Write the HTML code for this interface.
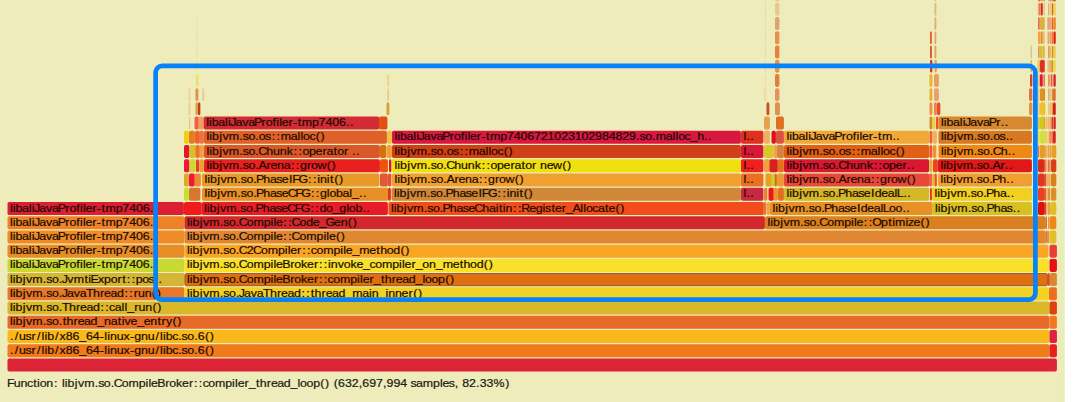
<!DOCTYPE html>
<html><head><meta charset="utf-8"><style>
html,body{margin:0;padding:0;}
body{width:1080px;height:402px;overflow:hidden;background:#ffffff;}
svg{display:block;}
.t{font-family:"Liberation Sans",sans-serif;font-size:11.2px;fill:#1a0a00;stroke:#1a0a00;stroke-width:0.2px;}
</style></head><body>
<svg width="1080" height="402" viewBox="0 0 1080 402">
<rect x="0" y="0" width="1064.5" height="402" fill="#edecba"/>
<rect x="1060" y="0" width="4.5" height="402" fill="#e9edb8"/>
<rect x="7.50" y="358.50" width="1049.40" height="13.0" rx="1.8" ry="1.8" fill="#dd2336"/>
<rect x="7.50" y="344.27" width="1041.90" height="13.0" rx="1.8" ry="1.8" fill="#f07a1c"/>
<svg x="7.50" y="344.27" width="1041.90" height="13.0" overflow="hidden"><text transform="translate(2.30,9.55) scale(1.107,1)" class="t" x="0.20 4.40 8.35 14.22 19.72 24.55 28.64 31.29 33.75 40.77 44.84 50.44 56.58 62.71 68.84 74.98 81.32 85.30 87.95 90.46 96.56 102.78 108.60 112.38 118.44 124.55 131.61 135.71 138.36 140.82 146.65 152.16 155.18 160.30 166.53 169.79 176.29 180.66">./usr/lib/x86_64-linux-gnu/libc.so.6()</text></svg>
<rect x="1049.50" y="344.27" width="7.40" height="13.0" rx="1.8" ry="1.8" fill="#e82020"/>
<rect x="7.50" y="330.04" width="1041.90" height="13.0" rx="1.8" ry="1.8" fill="#f9b91a"/>
<svg x="7.50" y="330.04" width="1041.90" height="13.0" overflow="hidden"><text transform="translate(2.30,9.55) scale(1.107,1)" class="t" x="0.20 4.40 8.35 14.22 19.72 24.55 28.64 31.29 33.75 40.77 44.84 50.44 56.58 62.71 68.84 74.98 81.32 85.30 87.95 90.46 96.56 102.78 108.60 112.38 118.44 124.55 131.61 135.71 138.36 140.82 146.65 152.16 155.18 160.30 166.53 169.79 176.29 180.66">./usr/lib/x86_64-linux-gnu/libc.so.6()</text></svg>
<rect x="1049.50" y="330.04" width="7.40" height="13.0" rx="1.8" ry="1.8" fill="#e02040"/>
<rect x="7.50" y="315.81" width="1041.90" height="13.0" rx="1.8" ry="1.8" fill="#e86a28"/>
<svg x="7.50" y="315.81" width="1041.90" height="13.0" overflow="hidden"><text transform="translate(2.30,9.55) scale(1.107,1)" class="t" x="0.08 2.73 5.19 11.71 14.64 20.32 29.87 32.89 38.01 44.25 47.90 51.29 57.66 61.34 67.11 73.01 79.08 85.20 91.15 97.50 101.04 103.66 109.08 115.02 120.96 126.88 133.40 137.05 141.03 147.00 151.36">libjvm.so.thread_native_entry()</text></svg>
<rect x="1049.50" y="315.81" width="7.40" height="13.0" rx="1.8" ry="1.8" fill="#f07820"/>
<rect x="7.50" y="301.58" width="1041.90" height="13.0" rx="1.8" ry="1.8" fill="#dab828"/>
<svg x="7.50" y="301.58" width="1041.90" height="13.0" overflow="hidden"><text transform="translate(2.30,9.55) scale(1.107,1)" class="t" x="0.08 2.73 5.19 11.71 14.64 20.32 29.87 32.89 38.01 44.25 47.09 53.41 59.77 63.45 69.22 75.12 81.87 86.24 89.70 94.79 100.88 103.54 106.06 112.43 116.29 122.40 128.88 133.25">libjvm.so.Thread::call_run()</text></svg>
<rect x="1049.50" y="301.58" width="7.40" height="13.0" rx="1.8" ry="1.8" fill="#e04010"/>
<rect x="7.50" y="287.35" width="176.90" height="13.0" rx="1.8" ry="1.8" fill="#e67828"/>
<svg x="7.50" y="287.35" width="176.90" height="13.0" overflow="hidden"><text transform="translate(2.30,9.55) scale(1.107,1)" class="t" x="0.08 2.73 5.19 11.71 14.64 20.32 29.87 32.89 38.01 44.25 46.96 51.74 57.80 63.23 68.78 75.10 81.46 85.14 90.91 96.81 103.56 107.93 111.87 115.73 121.83 128.32 132.69">libjvm.so.JavaThread::run()</text></svg>
<rect x="184.50" y="287.35" width="864.40" height="13.0" rx="1.8" ry="1.8" fill="#f4d224"/>
<svg x="184.50" y="287.35" width="864.40" height="13.0" overflow="hidden"><text transform="translate(2.30,9.55) scale(1.107,1)" class="t" x="0.08 2.73 5.19 11.71 14.64 20.32 29.87 32.89 38.01 44.25 46.96 51.74 57.80 63.23 68.78 75.10 81.46 85.14 90.91 96.81 103.56 107.93 112.02 115.41 121.77 125.46 131.22 137.13 143.20 149.41 158.54 164.63 167.14 173.26 179.53 182.03 188.14 194.06 200.25 204.49 208.86">libjvm.so.JavaThread::thread_main_inner()</text></svg>
<rect x="1049.00" y="287.35" width="7.90" height="13.0" rx="1.8" ry="1.8" fill="#e87020"/>
<rect x="7.50" y="273.12" width="176.90" height="13.0" rx="1.8" ry="1.8" fill="#d4b637"/>
<svg x="7.50" y="273.12" width="176.90" height="13.0" overflow="hidden"><text transform="translate(2.30,9.55) scale(1.107,1)" class="t" x="0.08 2.73 5.19 11.71 14.64 20.32 29.87 32.89 38.01 44.25 46.96 52.01 57.69 67.39 70.93 72.81 79.65 85.20 91.13 97.37 101.64 105.72 110.09 113.73 119.66 125.41 130.91 134.42">libjvm.so.JvmtiExport::pos..</text></svg>
<rect x="184.90" y="273.52" width="862.60" height="12.2" rx="1.8" ry="1.8" fill="#de7014" stroke="#7a3c00" stroke-width="0.8" stroke-opacity="0.85"/>
<svg x="184.50" y="273.12" width="863.40" height="13.0" overflow="hidden"><text transform="translate(2.30,9.55) scale(1.107,1)" class="t" x="0.08 2.73 5.19 11.71 14.64 20.32 29.87 32.89 38.01 44.25 46.88 54.10 60.17 69.42 75.62 78.28 80.61 86.17 93.41 97.14 103.24 108.65 114.83 119.39 123.76 127.22 132.34 138.41 147.66 153.86 156.51 158.84 165.02 168.90 175.43 178.82 185.18 188.86 194.63 200.53 206.60 212.87 215.25 221.11 227.04 233.48 237.85">libjvm.so.CompileBroker::compiler_thread_loop()</text></svg>
<rect x="1047.50" y="273.12" width="2.35" height="13.0" rx="1.8" ry="1.8" fill="#e84030"/>
<rect x="1050.00" y="273.12" width="6.90" height="13.0" rx="1.8" ry="1.8" fill="#d88830"/>
<rect x="7.50" y="258.89" width="176.90" height="13.0" rx="1.8" ry="1.8" fill="#c8da32"/>
<svg x="7.50" y="258.89" width="176.90" height="13.0" overflow="hidden"><text transform="translate(2.30,9.55) scale(1.107,1)" class="t" x="0.08 2.73 5.19 11.10 17.19 19.84 21.81 26.59 32.65 38.09 43.27 50.11 53.85 60.04 63.38 66.03 68.36 74.54 78.63 82.87 86.35 95.60 101.67 107.81 113.94 120.07 126.45 129.95">libaliJavaProfiler-tmp7406..</text></svg>
<rect x="184.50" y="258.89" width="864.40" height="13.0" rx="1.8" ry="1.8" fill="#f8e128"/>
<svg x="184.50" y="258.89" width="864.40" height="13.0" overflow="hidden"><text transform="translate(2.30,9.55) scale(1.107,1)" class="t" x="0.08 2.73 5.19 11.71 14.64 20.32 29.87 32.89 38.01 44.25 46.88 54.10 60.17 69.42 75.62 78.28 80.61 86.17 93.41 97.14 103.24 108.65 114.83 119.39 123.76 127.58 130.09 136.31 141.78 147.88 153.29 159.23 165.13 170.25 176.32 185.57 191.77 194.43 196.75 202.94 206.81 212.81 218.79 224.91 231.11 240.23 246.56 249.96 255.94 261.87 268.31 272.68">libjvm.so.CompileBroker::invoke_compiler_on_method()</text></svg>
<rect x="1049.50" y="258.89" width="7.40" height="13.0" rx="1.8" ry="1.8" fill="#e81010"/>
<rect x="7.50" y="244.66" width="176.90" height="13.0" rx="1.8" ry="1.8" fill="#e88c28"/>
<svg x="7.50" y="244.66" width="176.90" height="13.0" overflow="hidden"><text transform="translate(2.30,9.55) scale(1.107,1)" class="t" x="0.08 2.73 5.19 11.10 17.19 19.84 21.81 26.59 32.65 38.09 43.27 50.11 53.85 60.04 63.38 66.03 68.36 74.54 78.63 82.87 86.35 95.60 101.67 107.81 113.94 120.07 126.45 129.95">libaliJavaProfiler-tmp7406..</text></svg>
<rect x="184.50" y="244.66" width="863.90" height="13.0" rx="1.8" ry="1.8" fill="#faa523"/>
<svg x="184.50" y="244.66" width="863.90" height="13.0" overflow="hidden"><text transform="translate(2.30,9.55) scale(1.107,1)" class="t" x="0.08 2.73 5.19 11.71 14.64 20.32 29.87 32.89 38.01 44.25 46.88 54.24 59.75 66.97 73.04 82.29 88.49 91.15 93.48 99.66 104.21 108.58 112.04 117.16 123.23 132.48 138.68 141.33 143.66 149.60 155.81 164.93 171.26 174.66 180.64 186.57 193.01 197.37">libjvm.so.C2Compiler::compile_method()</text></svg>
<rect x="1049.50" y="244.66" width="7.40" height="13.0" rx="1.8" ry="1.8" fill="#e84030"/>
<rect x="7.50" y="230.43" width="176.90" height="13.0" rx="1.8" ry="1.8" fill="#f08c28"/>
<svg x="7.50" y="230.43" width="176.90" height="13.0" overflow="hidden"><text transform="translate(2.30,9.55) scale(1.107,1)" class="t" x="0.08 2.73 5.19 11.10 17.19 19.84 21.81 26.59 32.65 38.09 43.27 50.11 53.85 60.04 63.38 66.03 68.36 74.54 78.63 82.87 86.35 95.60 101.67 107.81 113.94 120.07 126.45 129.95">libaliJavaProfiler-tmp7406..</text></svg>
<rect x="184.50" y="230.43" width="861.40" height="13.0" rx="1.8" ry="1.8" fill="#e18732"/>
<svg x="184.50" y="230.43" width="861.40" height="13.0" overflow="hidden"><text transform="translate(2.30,9.55) scale(1.107,1)" class="t" x="0.08 2.73 5.19 11.71 14.64 20.32 29.87 32.89 38.01 44.25 46.88 54.10 60.17 69.42 75.62 78.28 80.61 87.22 91.59 94.66 101.89 107.96 117.20 123.41 126.06 128.39 134.69 139.06">libjvm.so.Compile::Compile()</text></svg>
<rect x="7.50" y="216.20" width="176.90" height="13.0" rx="1.8" ry="1.8" fill="#ee8228"/>
<svg x="7.50" y="216.20" width="176.90" height="13.0" overflow="hidden"><text transform="translate(2.30,9.55) scale(1.107,1)" class="t" x="0.08 2.73 5.19 11.10 17.19 19.84 21.81 26.59 32.65 38.09 43.27 50.11 53.85 60.04 63.38 66.03 68.36 74.54 78.63 82.87 86.35 95.60 101.67 107.81 113.94 120.07 126.45 129.95">libaliJavaProfiler-tmp7406..</text></svg>
<rect x="184.50" y="216.20" width="580.40" height="13.0" rx="1.8" ry="1.8" fill="#d2282d"/>
<svg x="184.50" y="216.20" width="580.40" height="13.0" overflow="hidden"><text transform="translate(2.30,9.55) scale(1.107,1)" class="t" x="0.08 2.73 5.19 11.71 14.64 20.32 29.87 32.89 38.01 44.25 46.88 54.10 60.17 69.42 75.62 78.28 80.61 87.22 91.59 94.66 101.89 107.82 113.70 119.64 125.20 133.06 138.98 145.47 149.83">libjvm.so.Compile::Code_Gen()</text></svg>
<rect x="765.00" y="216.20" width="280.40" height="13.0" rx="1.8" ry="1.8" fill="#da801e"/>
<svg x="765.00" y="216.20" width="280.40" height="13.0" overflow="hidden"><text transform="translate(2.30,9.55) scale(1.107,1)" class="t" x="0.08 2.73 5.19 11.71 14.64 20.32 29.87 32.89 38.01 44.25 46.88 54.10 60.17 69.42 75.62 78.28 80.61 87.22 91.59 94.76 102.79 109.26 112.80 115.39 124.83 127.11 132.17 138.48 142.84">libjvm.so.Compile::Optimize()</text></svg>
<rect x="7.50" y="201.97" width="176.40" height="13.0" rx="1.8" ry="1.8" fill="#dc1e32"/>
<svg x="7.50" y="201.97" width="176.40" height="13.0" overflow="hidden"><text transform="translate(2.30,9.55) scale(1.107,1)" class="t" x="0.08 2.73 5.19 11.10 17.19 19.84 21.81 26.59 32.65 38.09 43.27 50.11 53.85 60.04 63.38 66.03 68.36 74.54 78.63 82.87 86.35 95.60 101.67 107.81 113.94 120.07 126.45 129.95">libaliJavaProfiler-tmp7406..</text></svg>
<rect x="184.00" y="201.97" width="17.70" height="13.0" rx="1.8" ry="1.8" fill="#f01c1c"/>
<rect x="201.50" y="201.97" width="186.40" height="13.0" rx="1.8" ry="1.8" fill="#e81c28"/>
<svg x="201.50" y="201.97" width="186.40" height="13.0" overflow="hidden"><text transform="translate(2.30,9.55) scale(1.107,1)" class="t" x="0.08 2.73 5.19 11.71 14.64 20.32 29.87 32.89 38.01 44.25 46.73 53.32 59.26 64.98 70.04 75.36 82.12 87.70 96.42 100.79 104.43 110.36 116.36 122.43 128.63 131.01 136.95 143.26 146.77">libjvm.so.PhaseCFG::do_glob..</text></svg>
<rect x="388.50" y="201.97" width="375.40" height="13.0" rx="1.8" ry="1.8" fill="#f04c1c"/>
<svg x="388.50" y="201.97" width="375.40" height="13.0" overflow="hidden"><text transform="translate(2.30,9.55) scale(1.107,1)" class="t" x="0.08 2.73 5.19 11.71 14.64 20.32 29.87 32.89 38.01 44.25 46.73 53.32 59.26 64.98 70.04 75.36 82.71 88.65 94.75 97.66 101.20 103.71 110.50 114.88 117.91 125.06 130.94 137.14 139.41 145.06 148.28 154.46 158.34 164.08 171.20 173.85 176.24 181.99 187.09 193.44 196.66 202.96 207.33">libjvm.so.PhaseChaitin::Register_Allocate()</text></svg>
<rect x="763.50" y="201.97" width="2.85" height="13.0" rx="1.8" ry="1.8" fill="#f07030"/>
<rect x="767.00" y="201.97" width="2.85" height="13.0" rx="1.8" ry="1.8" fill="#f0a040"/>
<rect x="770.00" y="201.97" width="162.60" height="13.0" rx="1.8" ry="1.8" fill="#e89028"/>
<svg x="770.00" y="201.97" width="162.60" height="13.0" overflow="hidden"><text transform="translate(2.30,9.55) scale(1.107,1)" class="t" x="0.08 2.73 5.19 11.71 14.64 20.32 29.87 32.89 38.01 44.25 46.73 53.32 59.26 64.98 70.04 76.50 79.97 85.85 91.62 97.71 99.86 105.47 111.33 117.57 121.07">libjvm.so.PhaseIdealLoo..</text></svg>
<rect x="932.50" y="201.97" width="99.40" height="13.0" rx="1.8" ry="1.8" fill="#d8c020"/>
<svg x="932.50" y="201.97" width="99.40" height="13.0" overflow="hidden"><text transform="translate(2.30,9.55) scale(1.107,1)" class="t" x="0.08 2.73 5.19 11.71 14.64 20.32 29.87 32.89 38.01 44.25 46.73 53.32 59.26 64.98 70.48 73.99">libjvm.so.Phas..</text></svg>
<rect x="184.00" y="187.74" width="4.90" height="13.0" rx="1.8" ry="1.8" fill="#c8e028"/>
<rect x="189.00" y="187.74" width="11.40" height="13.0" rx="1.8" ry="1.8" fill="#d87830"/>
<rect x="202.00" y="187.74" width="186.40" height="13.0" rx="1.8" ry="1.8" fill="#e89028"/>
<svg x="202.00" y="187.74" width="186.40" height="13.0" overflow="hidden"><text transform="translate(2.30,9.55) scale(1.107,1)" class="t" x="0.08 2.73 5.19 11.71 14.64 20.32 29.87 32.89 38.01 44.25 46.73 53.32 59.26 64.98 70.04 75.36 82.12 87.70 96.42 100.79 104.43 110.63 113.01 118.95 124.85 130.94 133.46 139.84 143.34">libjvm.so.PhaseCFG::global_..</text></svg>
<rect x="388.00" y="187.74" width="2.85" height="13.0" rx="1.8" ry="1.8" fill="#e03020"/>
<rect x="391.50" y="187.74" width="349.40" height="13.0" rx="1.8" ry="1.8" fill="#d08838"/>
<svg x="391.50" y="187.74" width="349.40" height="13.0" overflow="hidden"><text transform="translate(2.30,9.55) scale(1.107,1)" class="t" x="0.08 2.73 5.19 11.71 14.64 20.32 29.87 32.89 38.01 44.25 46.73 53.32 59.26 64.98 70.04 76.50 79.44 85.01 93.74 98.11 101.93 104.44 110.69 113.61 117.38 121.75">libjvm.so.PhaseIFG::init()</text></svg>
<rect x="741.00" y="187.74" width="22.40" height="13.0" rx="1.8" ry="1.8" fill="#c82840"/>
<svg x="741.00" y="187.74" width="22.40" height="13.0" overflow="hidden"><text transform="translate(2.30,9.55) scale(1.107,1)" class="t" x="0.08 2.85 6.35">l..</text></svg>
<rect x="764.00" y="187.74" width="3.35" height="13.0" rx="1.8" ry="1.8" fill="#f08030"/>
<rect x="768.50" y="187.74" width="5.40" height="13.0" rx="1.8" ry="1.8" fill="#e81818"/>
<rect x="773.50" y="187.74" width="4.40" height="13.0" rx="1.8" ry="1.8" fill="#f09030"/>
<rect x="778.00" y="187.74" width="5.90" height="13.0" rx="1.8" ry="1.8" fill="#e07020"/>
<rect x="784.00" y="187.74" width="145.20" height="13.0" rx="1.8" ry="1.8" fill="#d4b828"/>
<svg x="784.00" y="187.74" width="145.20" height="13.0" overflow="hidden"><text transform="translate(2.30,9.55) scale(1.107,1)" class="t" x="0.08 2.73 5.19 11.71 14.64 20.32 29.87 32.89 38.01 44.25 46.73 53.32 59.26 64.98 70.04 76.50 79.97 85.85 91.62 97.71 99.86 105.85 109.36">libjvm.so.PhaseIdealL..</text></svg>
<rect x="930.00" y="187.74" width="1.85" height="13.0" rx="1.8" ry="1.8" fill="#e83010"/>
<rect x="932.00" y="187.74" width="99.90" height="13.0" rx="1.8" ry="1.8" fill="#f0d020"/>
<svg x="932.00" y="187.74" width="99.90" height="13.0" overflow="hidden"><text transform="translate(2.30,9.55) scale(1.107,1)" class="t" x="0.08 2.73 5.19 11.71 14.64 20.32 29.87 32.89 38.01 44.25 46.73 53.32 59.26 65.47 68.97">libjvm.so.Pha..</text></svg>
<rect x="184.00" y="173.51" width="4.90" height="13.0" rx="1.8" ry="1.8" fill="#e0a828"/>
<rect x="189.00" y="173.51" width="5.90" height="13.0" rx="1.8" ry="1.8" fill="#f01838"/>
<rect x="194.50" y="173.51" width="6.40" height="13.0" rx="1.8" ry="1.8" fill="#f08830"/>
<rect x="202.00" y="173.51" width="177.40" height="13.0" rx="1.8" ry="1.8" fill="#e89a28"/>
<svg x="202.00" y="173.51" width="177.40" height="13.0" overflow="hidden"><text transform="translate(2.30,9.55) scale(1.107,1)" class="t" x="0.08 2.73 5.19 11.71 14.64 20.32 29.87 32.89 38.01 44.25 46.73 53.32 59.26 64.98 70.04 76.50 79.44 85.01 93.74 98.11 101.93 104.44 110.69 113.61 117.38 121.75">libjvm.so.PhaseIFG::init()</text></svg>
<rect x="380.00" y="173.51" width="7.90" height="13.0" rx="1.8" ry="1.8" fill="#e05838"/>
<rect x="388.00" y="173.51" width="3.35" height="13.0" rx="1.8" ry="1.8" fill="#e85030"/>
<rect x="392.00" y="173.51" width="348.90" height="13.0" rx="1.8" ry="1.8" fill="#f0a030"/>
<svg x="392.00" y="173.51" width="348.90" height="13.0" overflow="hidden"><text transform="translate(2.30,9.55) scale(1.107,1)" class="t" x="0.08 2.73 5.19 11.71 14.64 20.32 29.87 32.89 38.01 44.25 47.12 54.35 58.03 63.96 69.90 76.54 80.92 84.55 90.86 94.60 100.47 108.71 113.08">libjvm.so.Arena::grow()</text></svg>
<rect x="741.00" y="173.51" width="22.40" height="13.0" rx="1.8" ry="1.8" fill="#e87020"/>
<svg x="741.00" y="173.51" width="22.40" height="13.0" overflow="hidden"><text transform="translate(2.30,9.55) scale(1.107,1)" class="t" x="0.08 2.85 6.35">l..</text></svg>
<rect x="765.50" y="173.51" width="6.40" height="13.0" rx="1.8" ry="1.8" fill="#e8a020"/>
<rect x="771.50" y="173.51" width="2.85" height="13.0" rx="1.8" ry="1.8" fill="#d0d020"/>
<rect x="774.50" y="173.51" width="2.35" height="13.0" rx="1.8" ry="1.8" fill="#c87010"/>
<rect x="777.00" y="173.51" width="6.90" height="13.0" rx="1.8" ry="1.8" fill="#f09838"/>
<rect x="784.00" y="173.51" width="145.20" height="13.0" rx="1.8" ry="1.8" fill="#e84838"/>
<svg x="784.00" y="173.51" width="145.20" height="13.0" overflow="hidden"><text transform="translate(2.30,9.55) scale(1.107,1)" class="t" x="0.08 2.73 5.19 11.71 14.64 20.32 29.87 32.89 38.01 44.25 47.12 54.35 58.03 63.96 69.90 76.54 80.92 84.55 90.86 94.60 100.47 108.71 113.08">libjvm.so.Arena::grow()</text></svg>
<rect x="929.00" y="173.51" width="3.35" height="13.0" rx="1.8" ry="1.8" fill="#f06048"/>
<rect x="932.50" y="173.51" width="1.85" height="13.0" rx="1.8" ry="1.8" fill="#e0c020"/>
<rect x="934.50" y="173.51" width="2.35" height="13.0" rx="1.8" ry="1.8" fill="#f05010"/>
<rect x="938.00" y="173.51" width="93.90" height="13.0" rx="1.8" ry="1.8" fill="#f0a030"/>
<svg x="938.00" y="173.51" width="93.90" height="13.0" overflow="hidden"><text transform="translate(2.30,9.55) scale(1.107,1)" class="t" x="0.08 2.73 5.19 11.71 14.64 20.32 29.87 32.89 38.01 44.25 46.73 53.32 59.68 63.18">libjvm.so.Ph..</text></svg>
<rect x="184.00" y="159.28" width="5.40" height="13.0" rx="1.8" ry="1.8" fill="#f01838"/>
<rect x="189.50" y="159.28" width="6.40" height="13.0" rx="1.8" ry="1.8" fill="#d0d830"/>
<rect x="196.00" y="159.28" width="3.35" height="13.0" rx="1.8" ry="1.8" fill="#e84028"/>
<rect x="199.50" y="159.28" width="4.40" height="13.0" rx="1.8" ry="1.8" fill="#f0a030"/>
<rect x="204.00" y="159.28" width="175.90" height="13.0" rx="1.8" ry="1.8" fill="#e82020"/>
<svg x="204.00" y="159.28" width="175.90" height="13.0" overflow="hidden"><text transform="translate(2.30,9.55) scale(1.107,1)" class="t" x="0.08 2.73 5.19 11.71 14.64 20.32 29.87 32.89 38.01 44.25 47.12 54.35 58.03 63.96 69.90 76.54 80.92 84.55 90.86 94.60 100.47 108.71 113.08">libjvm.so.Arena::grow()</text></svg>
<rect x="380.00" y="159.28" width="7.90" height="13.0" rx="1.8" ry="1.8" fill="#f05010"/>
<rect x="389.00" y="159.28" width="2.35" height="13.0" rx="1.8" ry="1.8" fill="#d02010"/>
<rect x="392.00" y="159.28" width="348.90" height="13.0" rx="1.8" ry="1.8" fill="#f0e010"/>
<svg x="392.00" y="159.28" width="348.90" height="13.0" overflow="hidden"><text transform="translate(2.30,9.55) scale(1.107,1)" class="t" x="0.08 2.73 5.19 11.71 14.64 20.32 29.87 32.89 38.01 44.25 46.88 54.23 60.33 66.44 72.66 78.95 83.32 86.87 92.81 98.69 104.87 108.57 114.92 118.19 124.43 128.49 131.68 137.61 143.43 151.67 156.04">libjvm.so.Chunk::operator new()</text></svg>
<rect x="741.00" y="159.28" width="22.40" height="13.0" rx="1.8" ry="1.8" fill="#f02020"/>
<svg x="741.00" y="159.28" width="22.40" height="13.0" overflow="hidden"><text transform="translate(2.30,9.55) scale(1.107,1)" class="t" x="0.08 2.85 6.35">l..</text></svg>
<rect x="764.00" y="159.28" width="5.90" height="13.0" rx="1.8" ry="1.8" fill="#f0a040"/>
<rect x="769.50" y="159.28" width="8.40" height="13.0" rx="1.8" ry="1.8" fill="#d82020"/>
<rect x="777.50" y="159.28" width="6.40" height="13.0" rx="1.8" ry="1.8" fill="#e87020"/>
<rect x="784.00" y="159.28" width="145.20" height="13.0" rx="1.8" ry="1.8" fill="#d81830"/>
<svg x="784.00" y="159.28" width="145.20" height="13.0" overflow="hidden"><text transform="translate(2.30,9.55) scale(1.107,1)" class="t" x="0.08 2.73 5.19 11.71 14.64 20.32 29.87 32.89 38.01 44.25 46.88 54.23 60.33 66.44 72.66 78.95 83.32 86.87 92.81 98.69 104.87 108.99 112.49">libjvm.so.Chunk::oper..</text></svg>
<rect x="929.50" y="159.28" width="2.85" height="13.0" rx="1.8" ry="1.8" fill="#e0b030"/>
<rect x="933.00" y="159.28" width="4.90" height="13.0" rx="1.8" ry="1.8" fill="#f04020"/>
<rect x="938.00" y="159.28" width="93.90" height="13.0" rx="1.8" ry="1.8" fill="#e01818"/>
<svg x="938.00" y="159.28" width="93.90" height="13.0" overflow="hidden"><text transform="translate(2.30,9.55) scale(1.107,1)" class="t" x="0.08 2.73 5.19 11.71 14.64 20.32 29.87 32.89 38.01 44.25 47.12 54.35 58.47 61.97">libjvm.so.Ar..</text></svg>
<rect x="184.00" y="145.05" width="5.40" height="13.0" rx="1.8" ry="1.8" fill="#e01828"/>
<rect x="189.50" y="145.05" width="6.40" height="13.0" rx="1.8" ry="1.8" fill="#d8c028"/>
<rect x="195.50" y="145.05" width="4.40" height="13.0" rx="1.8" ry="1.8" fill="#f07030"/>
<rect x="199.50" y="145.05" width="4.40" height="13.0" rx="1.8" ry="1.8" fill="#f0a040"/>
<rect x="204.00" y="145.05" width="175.90" height="13.0" rx="1.8" ry="1.8" fill="#d8582a"/>
<svg x="204.00" y="145.05" width="175.90" height="13.0" overflow="hidden"><text transform="translate(2.30,9.55) scale(1.107,1)" class="t" x="0.08 2.73 5.19 11.71 14.64 20.32 29.87 32.89 38.01 44.25 46.88 54.23 60.33 66.44 72.66 78.95 83.32 86.87 92.81 98.69 104.87 108.57 114.92 118.19 124.43 128.49 131.94 135.45">libjvm.so.Chunk::operator ..</text></svg>
<rect x="380.00" y="145.05" width="6.40" height="13.0" rx="1.8" ry="1.8" fill="#d87010"/>
<rect x="387.00" y="145.05" width="4.90" height="13.0" rx="1.8" ry="1.8" fill="#f0a030"/>
<rect x="392.00" y="145.05" width="348.90" height="13.0" rx="1.8" ry="1.8" fill="#d04018"/>
<svg x="392.00" y="145.05" width="348.90" height="13.0" overflow="hidden"><text transform="translate(2.30,9.55) scale(1.107,1)" class="t" x="0.08 2.73 5.19 11.71 14.64 20.32 29.87 32.89 38.01 44.25 47.37 53.12 59.05 63.42 67.19 76.33 82.42 85.07 87.46 93.21 98.84 103.21">libjvm.so.os::malloc()</text></svg>
<rect x="741.00" y="145.05" width="22.40" height="13.0" rx="1.8" ry="1.8" fill="#d81838"/>
<svg x="741.00" y="145.05" width="22.40" height="13.0" overflow="hidden"><text transform="translate(2.30,9.55) scale(1.107,1)" class="t" x="0.08 2.85 6.35">l..</text></svg>
<rect x="764.00" y="145.05" width="9.40" height="13.0" rx="1.8" ry="1.8" fill="#d8c828"/>
<rect x="773.50" y="145.05" width="4.40" height="13.0" rx="1.8" ry="1.8" fill="#f0a050"/>
<rect x="777.00" y="145.05" width="6.90" height="13.0" rx="1.8" ry="1.8" fill="#d88040"/>
<rect x="784.00" y="145.05" width="145.20" height="13.0" rx="1.8" ry="1.8" fill="#e06018"/>
<svg x="784.00" y="145.05" width="145.20" height="13.0" overflow="hidden"><text transform="translate(2.30,9.55) scale(1.107,1)" class="t" x="0.08 2.73 5.19 11.71 14.64 20.32 29.87 32.89 38.01 44.25 47.37 53.12 59.05 63.42 67.19 76.33 82.42 85.07 87.46 93.21 98.84 103.21">libjvm.so.os::malloc()</text></svg>
<rect x="929.50" y="145.05" width="2.85" height="13.0" rx="1.8" ry="1.8" fill="#f05030"/>
<rect x="933.00" y="145.05" width="3.35" height="13.0" rx="1.8" ry="1.8" fill="#f09030"/>
<rect x="938.50" y="145.05" width="93.40" height="13.0" rx="1.8" ry="1.8" fill="#f08818"/>
<svg x="938.50" y="145.05" width="93.40" height="13.0" overflow="hidden"><text transform="translate(2.30,9.55) scale(1.107,1)" class="t" x="0.08 2.73 5.19 11.71 14.64 20.32 29.87 32.89 38.01 44.25 46.88 54.23 60.59 64.10">libjvm.so.Ch..</text></svg>
<rect x="184.00" y="130.82" width="4.90" height="13.0" rx="1.8" ry="1.8" fill="#f0d010"/>
<rect x="189.00" y="130.82" width="5.90" height="13.0" rx="1.8" ry="1.8" fill="#e08020"/>
<rect x="195.00" y="130.82" width="4.90" height="13.0" rx="1.8" ry="1.8" fill="#f06030"/>
<rect x="199.50" y="130.82" width="4.40" height="13.0" rx="1.8" ry="1.8" fill="#f07040"/>
<rect x="204.00" y="130.82" width="182.90" height="13.0" rx="1.8" ry="1.8" fill="#e0602a"/>
<svg x="204.00" y="130.82" width="182.90" height="13.0" overflow="hidden"><text transform="translate(2.30,9.55) scale(1.107,1)" class="t" x="0.08 2.73 5.19 11.71 14.64 20.32 29.87 32.89 38.01 44.25 47.37 53.12 59.05 63.42 67.19 76.33 82.42 85.07 87.46 93.21 98.84 103.21">libjvm.so.os::malloc()</text></svg>
<rect x="387.00" y="130.82" width="4.90" height="13.0" rx="1.8" ry="1.8" fill="#f0c040"/>
<rect x="392.00" y="130.82" width="348.90" height="13.0" rx="1.8" ry="1.8" fill="#d81840"/>
<svg x="392.00" y="130.82" width="348.90" height="13.0" overflow="hidden"><text transform="translate(2.30,9.55) scale(1.107,1)" class="t" x="0.08 2.73 5.19 11.10 17.19 19.84 21.81 26.59 32.65 38.09 43.27 50.11 53.85 60.04 63.38 66.03 68.36 74.54 78.63 82.87 86.35 95.60 101.67 107.81 113.94 120.07 126.21 132.34 138.47 144.61 150.74 156.87 163.01 169.14 175.27 181.41 187.54 193.67 199.81 205.94 212.07 218.45 221.47 226.59 232.82 236.16 245.30 251.39 254.04 256.42 262.18 267.44 273.56 279.93 283.43">libaliJavaProfiler-tmp7406721023102984829.so.malloc_h..</text></svg>
<rect x="741.00" y="130.82" width="22.40" height="13.0" rx="1.8" ry="1.8" fill="#e03020"/>
<svg x="741.00" y="130.82" width="22.40" height="13.0" overflow="hidden"><text transform="translate(2.30,9.55) scale(1.107,1)" class="t" x="0.08 2.85 6.35">l..</text></svg>
<rect x="764.00" y="130.82" width="5.90" height="13.0" rx="1.8" ry="1.8" fill="#f0b060"/>
<rect x="771.50" y="130.82" width="4.40" height="13.0" rx="1.8" ry="1.8" fill="#e01020"/>
<rect x="776.00" y="130.82" width="7.90" height="13.0" rx="1.8" ry="1.8" fill="#e05040"/>
<rect x="784.00" y="130.82" width="145.20" height="13.0" rx="1.8" ry="1.8" fill="#f0a838"/>
<svg x="784.00" y="130.82" width="145.20" height="13.0" overflow="hidden"><text transform="translate(2.30,9.55) scale(1.107,1)" class="t" x="0.08 2.73 5.19 11.10 17.19 19.84 21.81 26.59 32.65 38.09 43.27 50.11 53.85 60.04 63.38 66.03 68.36 74.54 78.63 82.87 86.35 95.90 99.41">libaliJavaProfiler-tm..</text></svg>
<rect x="929.50" y="130.82" width="2.85" height="13.0" rx="1.8" ry="1.8" fill="#f06030"/>
<rect x="932.50" y="130.82" width="4.40" height="13.0" rx="1.8" ry="1.8" fill="#f0b060"/>
<rect x="938.50" y="130.82" width="93.40" height="13.0" rx="1.8" ry="1.8" fill="#d87820"/>
<svg x="938.50" y="130.82" width="93.40" height="13.0" overflow="hidden"><text transform="translate(2.30,9.55) scale(1.107,1)" class="t" x="0.08 2.73 5.19 11.71 14.64 20.32 29.87 32.89 38.01 44.25 47.37 53.12 58.62 62.12">libjvm.so.os..</text></svg>
<rect x="189.00" y="116.59" width="1.35" height="13.0" rx="1.8" ry="1.8" fill="#f0c080"/>
<rect x="194.50" y="116.59" width="4.40" height="13.0" rx="1.8" ry="1.8" fill="#f06048"/>
<rect x="198.50" y="116.59" width="5.40" height="13.0" rx="1.8" ry="1.8" fill="#f0a060"/>
<rect x="203.75" y="116.59" width="175.45" height="13.0" rx="1.8" ry="1.8" fill="#d42a35"/>
<svg x="203.75" y="116.59" width="175.45" height="13.0" overflow="hidden"><text transform="translate(2.30,9.55) scale(1.107,1)" class="t" x="0.08 2.73 5.19 11.10 17.19 19.84 21.81 26.59 32.65 38.09 43.27 50.11 53.85 60.04 63.38 66.03 68.36 74.54 78.63 82.87 86.35 95.60 101.67 107.81 113.94 120.07 126.45 129.95">libaliJavaProfiler-tmp7406..</text></svg>
<rect x="379.00" y="116.59" width="8.40" height="13.0" rx="1.8" ry="1.8" fill="#e05010"/>
<rect x="764.00" y="116.59" width="5.90" height="13.0" rx="1.8" ry="1.8" fill="#e8a050"/>
<rect x="776.00" y="116.59" width="7.90" height="13.0" rx="1.8" ry="1.8" fill="#e07020"/>
<rect x="929.50" y="116.59" width="2.85" height="13.0" rx="1.8" ry="1.8" fill="#c89030"/>
<rect x="932.50" y="116.59" width="2.85" height="13.0" rx="1.8" ry="1.8" fill="#f0d040"/>
<rect x="936.00" y="116.59" width="2.35" height="13.0" rx="1.8" ry="1.8" fill="#f05020"/>
<rect x="938.50" y="116.59" width="93.40" height="13.0" rx="1.8" ry="1.8" fill="#d88830"/>
<svg x="938.50" y="116.59" width="93.40" height="13.0" overflow="hidden"><text transform="translate(2.30,9.55) scale(1.107,1)" class="t" x="0.08 2.73 5.19 11.10 17.19 19.84 21.81 26.59 32.65 38.09 43.27 50.11 54.23 57.74">libaliJavaPr..</text></svg>
<rect x="188.50" y="102.36" width="1.85" height="13.0" rx="1.8" ry="1.8" fill="#f0c890"/>
<rect x="195.50" y="102.36" width="2.35" height="13.0" rx="1.8" ry="1.8" fill="#d8a030"/>
<rect x="198.00" y="102.36" width="2.35" height="13.0" rx="1.8" ry="1.8" fill="#c83818"/>
<rect x="386.50" y="102.36" width="2.85" height="13.0" rx="1.8" ry="1.8" fill="#d8a030"/>
<rect x="766.50" y="102.36" width="2.85" height="13.0" rx="1.8" ry="1.8" fill="#c85020"/>
<rect x="775.00" y="102.36" width="4.90" height="13.0" rx="1.8" ry="1.8" fill="#e09050"/>
<rect x="929.50" y="102.36" width="2.85" height="13.0" rx="1.8" ry="1.8" fill="#f09040"/>
<rect x="934.00" y="102.36" width="2.85" height="13.0" rx="1.8" ry="1.8" fill="#f08050"/>
<rect x="937.00" y="102.36" width="3.35" height="13.0" rx="1.8" ry="1.8" fill="#e05030"/>
<rect x="1029.00" y="102.36" width="3.35" height="13.0" rx="1.8" ry="1.8" fill="#e89040"/>
<rect x="188.50" y="88.13" width="1.85" height="13.0" rx="1.8" ry="1.8" fill="#f0d0a0"/>
<rect x="195.50" y="88.13" width="2.85" height="13.0" rx="1.8" ry="1.8" fill="#e09050"/>
<rect x="202.00" y="88.13" width="2.35" height="13.0" rx="1.8" ry="1.8" fill="#e8d0a0"/>
<rect x="387.50" y="88.13" width="1.35" height="13.0" rx="1.8" ry="1.8" fill="#e0c090"/>
<rect x="764.00" y="88.13" width="2.35" height="13.0" rx="1.8" ry="1.8" fill="#f0d8a0"/>
<rect x="775.00" y="88.13" width="4.40" height="13.0" rx="1.8" ry="1.8" fill="#e89060"/>
<rect x="929.50" y="88.13" width="2.85" height="13.0" rx="1.8" ry="1.8" fill="#e8b030"/>
<rect x="934.00" y="88.13" width="4.90" height="13.0" rx="1.8" ry="1.8" fill="#e8a070"/>
<rect x="1029.00" y="88.13" width="3.35" height="13.0" rx="1.8" ry="1.8" fill="#e87040"/>
<rect x="196.00" y="73.90" width="2.35" height="13.0" rx="1.8" ry="1.8" fill="#f0e060"/>
<rect x="387.50" y="73.90" width="1.35" height="13.0" rx="1.8" ry="1.8" fill="#e8d070"/>
<rect x="775.00" y="73.90" width="4.40" height="13.0" rx="1.8" ry="1.8" fill="#e08040"/>
<rect x="764.90" y="73.90" width="1.05" height="13.0" rx="1.8" ry="1.8" fill="#e4dcb0"/>
<rect x="764.90" y="59.67" width="1.05" height="13.0" rx="1.8" ry="1.8" fill="#e4dcb0"/>
<rect x="764.90" y="45.44" width="1.05" height="13.0" rx="1.8" ry="1.8" fill="#e4dcb0"/>
<rect x="764.90" y="31.21" width="1.05" height="13.0" rx="1.8" ry="1.8" fill="#e4dcb0"/>
<rect x="764.90" y="16.98" width="1.05" height="13.0" rx="1.8" ry="1.8" fill="#e4dcb0"/>
<rect x="764.90" y="2.75" width="1.05" height="13.0" rx="1.8" ry="1.8" fill="#e4dcb0"/>
<rect x="764.90" y="-11.48" width="1.05" height="13.0" rx="1.8" ry="1.8" fill="#e4dcb0"/>
<rect x="929.50" y="73.90" width="2.85" height="13.0" rx="1.8" ry="1.8" fill="#f0b030"/>
<rect x="934.00" y="73.90" width="4.90" height="13.0" rx="1.8" ry="1.8" fill="#e8a060"/>
<rect x="1030.00" y="73.90" width="2.35" height="13.0" rx="1.8" ry="1.8" fill="#e04020"/>
<rect x="196.00" y="59.67" width="1.85" height="13.0" rx="1.8" ry="1.8" fill="#f0e8a0"/>
<rect x="196.20" y="45.44" width="0.95" height="13.0" rx="1.8" ry="1.8" fill="#e6dfb0"/>
<rect x="196.20" y="31.21" width="0.95" height="13.0" rx="1.8" ry="1.8" fill="#e6dfb0"/>
<rect x="196.20" y="16.98" width="0.95" height="13.0" rx="1.8" ry="1.8" fill="#e6dfb0"/>
<rect x="775.00" y="59.67" width="4.40" height="13.0" rx="1.8" ry="1.8" fill="#e89050"/>
<rect x="930.00" y="59.67" width="2.35" height="13.0" rx="1.8" ry="1.8" fill="#e03020"/>
<rect x="934.50" y="59.67" width="2.35" height="13.0" rx="1.8" ry="1.8" fill="#e8a060"/>
<rect x="1030.50" y="59.67" width="1.35" height="13.0" rx="1.8" ry="1.8" fill="#e0a040"/>
<rect x="1030.60" y="45.44" width="1.15" height="13.0" rx="1.8" ry="1.8" fill="#d8b880"/>
<rect x="775.00" y="45.44" width="4.40" height="13.0" rx="1.8" ry="1.8" fill="#e88040"/>
<rect x="930.00" y="45.44" width="1.85" height="13.0" rx="1.8" ry="1.8" fill="#e05028"/>
<rect x="930.00" y="31.21" width="1.85" height="13.0" rx="1.8" ry="1.8" fill="#e06030"/>
<rect x="934.50" y="45.44" width="1.85" height="13.0" rx="1.8" ry="1.8" fill="#e0a060"/>
<rect x="775.00" y="31.21" width="4.40" height="13.0" rx="1.8" ry="1.8" fill="#e89050"/>
<rect x="934.50" y="31.21" width="1.85" height="13.0" rx="1.8" ry="1.8" fill="#e0a868"/>
<rect x="775.00" y="16.98" width="4.40" height="13.0" rx="1.8" ry="1.8" fill="#e0a070"/>
<rect x="934.50" y="16.98" width="1.85" height="13.0" rx="1.8" ry="1.8" fill="#e0b070"/>
<rect x="775.00" y="2.75" width="4.40" height="13.0" rx="1.8" ry="1.8" fill="#e8c890"/>
<rect x="775.00" y="-11.48" width="4.40" height="13.0" rx="1.8" ry="1.8" fill="#e8c890"/>
<rect x="934.50" y="2.75" width="1.85" height="13.0" rx="1.8" ry="1.8" fill="#e0b878"/>
<rect x="934.50" y="-11.48" width="1.85" height="13.0" rx="1.8" ry="1.8" fill="#e0c080"/>
<rect x="1046.00" y="230.43" width="1.75" height="13.0" rx="1.8" ry="1.8" fill="#e07040"/>
<rect x="1048.00" y="230.43" width="1.25" height="13.0" rx="1.8" ry="1.8" fill="#e89040"/>
<rect x="1049.50" y="230.43" width="6.80" height="13.0" rx="1.8" ry="1.8" fill="#e0c028"/>
<rect x="1045.50" y="216.20" width="1.25" height="13.0" rx="1.8" ry="1.8" fill="#c85010"/>
<rect x="1048.00" y="216.20" width="1.25" height="13.0" rx="1.8" ry="1.8" fill="#f09040"/>
<rect x="1049.50" y="216.20" width="6.80" height="13.0" rx="1.8" ry="1.8" fill="#f08818"/>
<rect x="1038.00" y="201.97" width="6.80" height="13.0" rx="1.8" ry="1.8" fill="#e01010"/>
<rect x="1044.50" y="201.97" width="1.75" height="13.0" rx="1.8" ry="1.8" fill="#d84020"/>
<rect x="1046.50" y="201.97" width="0.75" height="13.0" rx="1.8" ry="1.8" fill="#f0a070"/>
<rect x="1047.50" y="201.97" width="3.25" height="13.0" rx="1.8" ry="1.8" fill="#e8a040"/>
<rect x="1051.00" y="201.97" width="5.30" height="13.0" rx="1.8" ry="1.8" fill="#e0c020"/>
<rect x="1038.00" y="187.74" width="6.30" height="13.0" rx="1.8" ry="1.8" fill="#e84020"/>
<rect x="1044.00" y="187.74" width="2.25" height="13.0" rx="1.8" ry="1.8" fill="#d86030"/>
<rect x="1046.50" y="187.74" width="1.25" height="13.0" rx="1.8" ry="1.8" fill="#f0a060"/>
<rect x="1048.00" y="187.74" width="2.25" height="13.0" rx="1.8" ry="1.8" fill="#e09030"/>
<rect x="1051.00" y="187.74" width="5.30" height="13.0" rx="1.8" ry="1.8" fill="#d89028"/>
<rect x="1038.00" y="173.51" width="6.30" height="13.0" rx="1.8" ry="1.8" fill="#e03820"/>
<rect x="1044.00" y="173.51" width="2.25" height="13.0" rx="1.8" ry="1.8" fill="#e05030"/>
<rect x="1046.50" y="173.51" width="1.25" height="13.0" rx="1.8" ry="1.8" fill="#f09060"/>
<rect x="1048.00" y="173.51" width="2.75" height="13.0" rx="1.8" ry="1.8" fill="#e8b050"/>
<rect x="1051.00" y="173.51" width="5.30" height="13.0" rx="1.8" ry="1.8" fill="#d88020"/>
<rect x="1038.00" y="159.28" width="6.80" height="13.0" rx="1.8" ry="1.8" fill="#e02818"/>
<rect x="1044.50" y="159.28" width="1.25" height="13.0" rx="1.8" ry="1.8" fill="#e06030"/>
<rect x="1046.00" y="159.28" width="1.75" height="13.0" rx="1.8" ry="1.8" fill="#f0b070"/>
<rect x="1048.00" y="159.28" width="1.75" height="13.0" rx="1.8" ry="1.8" fill="#e07040"/>
<rect x="1050.00" y="159.28" width="0.75" height="13.0" rx="1.8" ry="1.8" fill="#f09060"/>
<rect x="1051.00" y="159.28" width="5.30" height="13.0" rx="1.8" ry="1.8" fill="#d84018"/>
<rect x="1038.00" y="145.05" width="0.75" height="13.0" rx="1.8" ry="1.8" fill="#e84020"/>
<rect x="1039.50" y="145.05" width="5.30" height="13.0" rx="1.8" ry="1.8" fill="#e0a020"/>
<rect x="1044.50" y="145.05" width="1.25" height="13.0" rx="1.8" ry="1.8" fill="#e09040"/>
<rect x="1046.00" y="145.05" width="1.25" height="13.0" rx="1.8" ry="1.8" fill="#f0b070"/>
<rect x="1047.50" y="145.05" width="2.25" height="13.0" rx="1.8" ry="1.8" fill="#f0a040"/>
<rect x="1050.00" y="145.05" width="1.75" height="13.0" rx="1.8" ry="1.8" fill="#e8a040"/>
<rect x="1052.00" y="145.05" width="4.30" height="13.0" rx="1.8" ry="1.8" fill="#e8a020"/>
<rect x="1038.00" y="130.82" width="1.75" height="13.0" rx="1.8" ry="1.8" fill="#e8e030"/>
<rect x="1040.00" y="130.82" width="5.30" height="13.0" rx="1.8" ry="1.8" fill="#d0e040"/>
<rect x="1045.00" y="130.82" width="2.25" height="13.0" rx="1.8" ry="1.8" fill="#e8d060"/>
<rect x="1047.50" y="130.82" width="1.25" height="13.0" rx="1.8" ry="1.8" fill="#f0c080"/>
<rect x="1049.00" y="130.82" width="2.25" height="13.0" rx="1.8" ry="1.8" fill="#f09050"/>
<rect x="1051.50" y="130.82" width="1.25" height="13.0" rx="1.8" ry="1.8" fill="#e05030"/>
<rect x="1053.00" y="130.82" width="2.75" height="13.0" rx="1.8" ry="1.8" fill="#e02020"/>
<rect x="1038.00" y="116.59" width="1.75" height="13.0" rx="1.8" ry="1.8" fill="#d8c030"/>
<rect x="1040.00" y="116.59" width="4.30" height="13.0" rx="1.8" ry="1.8" fill="#d0c820"/>
<rect x="1044.00" y="116.59" width="1.25" height="13.0" rx="1.8" ry="1.8" fill="#e8a020"/>
<rect x="1045.50" y="116.59" width="1.75" height="13.0" rx="1.8" ry="1.8" fill="#f0c060"/>
<rect x="1047.50" y="116.59" width="2.25" height="13.0" rx="1.8" ry="1.8" fill="#f0b070"/>
<rect x="1050.00" y="116.59" width="1.25" height="13.0" rx="1.8" ry="1.8" fill="#f0a060"/>
<rect x="1051.50" y="116.59" width="1.75" height="13.0" rx="1.8" ry="1.8" fill="#d04020"/>
<rect x="1053.50" y="116.59" width="2.25" height="13.0" rx="1.8" ry="1.8" fill="#d82020"/>
<rect x="1038.50" y="102.36" width="1.25" height="13.0" rx="1.8" ry="1.8" fill="#f0c040"/>
<rect x="1040.00" y="102.36" width="5.30" height="13.0" rx="1.8" ry="1.8" fill="#f0c030"/>
<rect x="1048.00" y="102.36" width="1.25" height="13.0" rx="1.8" ry="1.8" fill="#f0c080"/>
<rect x="1049.50" y="102.36" width="2.25" height="13.0" rx="1.8" ry="1.8" fill="#e8c060"/>
<rect x="1052.00" y="102.36" width="0.75" height="13.0" rx="1.8" ry="1.8" fill="#f07020"/>
<rect x="1053.00" y="102.36" width="2.75" height="13.0" rx="1.8" ry="1.8" fill="#d02010"/>
<rect x="1038.50" y="88.13" width="0.75" height="13.0" rx="1.8" ry="1.8" fill="#f0a040"/>
<rect x="1040.00" y="88.13" width="4.30" height="13.0" rx="1.8" ry="1.8" fill="#e09020"/>
<rect x="1044.00" y="88.13" width="0.75" height="13.0" rx="1.8" ry="1.8" fill="#c87010"/>
<rect x="1048.00" y="88.13" width="0.75" height="13.0" rx="1.8" ry="1.8" fill="#c8a060"/>
<rect x="1049.00" y="88.13" width="2.75" height="13.0" rx="1.8" ry="1.8" fill="#f0c080"/>
<rect x="1052.00" y="88.13" width="0.75" height="13.0" rx="1.8" ry="1.8" fill="#d07020"/>
<rect x="1053.00" y="88.13" width="2.75" height="13.0" rx="1.8" ry="1.8" fill="#e07030"/>
<rect x="1038.50" y="73.90" width="1.25" height="13.0" rx="1.8" ry="1.8" fill="#f0a060"/>
<rect x="1040.00" y="73.90" width="2.75" height="13.0" rx="1.8" ry="1.8" fill="#e01830"/>
<rect x="1043.00" y="73.90" width="0.75" height="13.0" rx="1.8" ry="1.8" fill="#f08070"/>
<rect x="1044.00" y="73.90" width="0.75" height="13.0" rx="1.8" ry="1.8" fill="#e05030"/>
<rect x="1048.00" y="73.90" width="1.75" height="13.0" rx="1.8" ry="1.8" fill="#e89050"/>
<rect x="1050.00" y="73.90" width="0.75" height="13.0" rx="1.8" ry="1.8" fill="#f0a070"/>
<rect x="1051.00" y="73.90" width="1.25" height="13.0" rx="1.8" ry="1.8" fill="#e06040"/>
<rect x="1052.50" y="73.90" width="0.75" height="13.0" rx="1.8" ry="1.8" fill="#f07050"/>
<rect x="1053.50" y="73.90" width="2.25" height="13.0" rx="1.8" ry="1.8" fill="#d82020"/>
<rect x="1037.50" y="59.67" width="1.25" height="13.0" rx="1.8" ry="1.8" fill="#f0c040"/>
<rect x="1039.00" y="59.67" width="0.75" height="13.0" rx="1.8" ry="1.8" fill="#f0a040"/>
<rect x="1040.00" y="59.67" width="4.30" height="13.0" rx="1.8" ry="1.8" fill="#e03020"/>
<rect x="1044.00" y="59.67" width="0.75" height="13.0" rx="1.8" ry="1.8" fill="#d84040"/>
<rect x="1047.50" y="59.67" width="1.25" height="13.0" rx="1.8" ry="1.8" fill="#f0b060"/>
<rect x="1049.00" y="59.67" width="0.75" height="13.0" rx="1.8" ry="1.8" fill="#e0a050"/>
<rect x="1050.00" y="59.67" width="1.25" height="13.0" rx="1.8" ry="1.8" fill="#f0b070"/>
<rect x="1051.50" y="59.67" width="1.25" height="13.0" rx="1.8" ry="1.8" fill="#c87018"/>
<rect x="1053.00" y="59.67" width="0.75" height="13.0" rx="1.8" ry="1.8" fill="#f8c040"/>
<rect x="1054.00" y="59.67" width="1.75" height="13.0" rx="1.8" ry="1.8" fill="#e0e040"/>
<rect x="1038.00" y="45.44" width="1.75" height="13.0" rx="1.8" ry="1.8" fill="#d8a040"/>
<rect x="1040.00" y="45.44" width="2.25" height="13.0" rx="1.8" ry="1.8" fill="#d8c030"/>
<rect x="1042.50" y="45.44" width="2.25" height="13.0" rx="1.8" ry="1.8" fill="#e0b040"/>
<rect x="1048.00" y="45.44" width="1.75" height="13.0" rx="1.8" ry="1.8" fill="#e0a050"/>
<rect x="1050.00" y="45.44" width="1.75" height="13.0" rx="1.8" ry="1.8" fill="#f0c060"/>
<rect x="1052.00" y="45.44" width="0.75" height="13.0" rx="1.8" ry="1.8" fill="#c87010"/>
<rect x="1053.00" y="45.44" width="0.75" height="13.0" rx="1.8" ry="1.8" fill="#f0b040"/>
<rect x="1054.00" y="45.44" width="1.75" height="13.0" rx="1.8" ry="1.8" fill="#e8d040"/>
<rect x="1038.00" y="31.21" width="2.75" height="13.0" rx="1.8" ry="1.8" fill="#f8a040"/>
<rect x="1041.00" y="31.21" width="1.75" height="13.0" rx="1.8" ry="1.8" fill="#e09030"/>
<rect x="1043.00" y="31.21" width="1.75" height="13.0" rx="1.8" ry="1.8" fill="#e8c070"/>
<rect x="1047.50" y="31.21" width="1.75" height="13.0" rx="1.8" ry="1.8" fill="#e8a080"/>
<rect x="1049.50" y="31.21" width="2.25" height="13.0" rx="1.8" ry="1.8" fill="#f0a050"/>
<rect x="1052.00" y="31.21" width="1.25" height="13.0" rx="1.8" ry="1.8" fill="#f07030"/>
<rect x="1053.50" y="31.21" width="2.25" height="13.0" rx="1.8" ry="1.8" fill="#e02010"/>
<rect x="1038.00" y="16.98" width="1.75" height="13.0" rx="1.8" ry="1.8" fill="#e87040"/>
<rect x="1040.00" y="16.98" width="4.80" height="13.0" rx="1.8" ry="1.8" fill="#e0b040"/>
<rect x="1047.50" y="16.98" width="1.25" height="13.0" rx="1.8" ry="1.8" fill="#d09060"/>
<rect x="1049.00" y="16.98" width="2.75" height="13.0" rx="1.8" ry="1.8" fill="#f0a080"/>
<rect x="1052.00" y="16.98" width="1.25" height="13.0" rx="1.8" ry="1.8" fill="#e06010"/>
<rect x="1053.50" y="16.98" width="2.25" height="13.0" rx="1.8" ry="1.8" fill="#f08020"/>
<rect x="1037.80" y="2.75" width="0.95" height="13.0" rx="1.8" ry="1.8" fill="#e8a060"/>
<rect x="1039.00" y="2.75" width="1.75" height="13.0" rx="1.8" ry="1.8" fill="#f07050"/>
<rect x="1041.00" y="2.75" width="1.75" height="13.0" rx="1.8" ry="1.8" fill="#d03010"/>
<rect x="1043.50" y="2.75" width="1.25" height="13.0" rx="1.8" ry="1.8" fill="#f0b090"/>
<rect x="1048.00" y="2.75" width="0.75" height="13.0" rx="1.8" ry="1.8" fill="#c8a060"/>
<rect x="1049.50" y="2.75" width="2.25" height="13.0" rx="1.8" ry="1.8" fill="#f0c080"/>
<rect x="1052.00" y="2.75" width="1.25" height="13.0" rx="1.8" ry="1.8" fill="#c87010"/>
<rect x="1053.50" y="2.75" width="0.75" height="13.0" rx="1.8" ry="1.8" fill="#f0b030"/>
<rect x="1054.50" y="2.75" width="1.25" height="13.0" rx="1.8" ry="1.8" fill="#e8d040"/>
<rect x="1038.00" y="-11.48" width="2.75" height="13.0" rx="1.8" ry="1.8" fill="#c88040"/>
<rect x="1041.00" y="-11.48" width="4.30" height="13.0" rx="1.8" ry="1.8" fill="#e0b060"/>
<rect x="1048.00" y="-11.48" width="4.30" height="13.0" rx="1.8" ry="1.8" fill="#e0a070"/>
<rect x="1052.00" y="-11.48" width="4.30" height="13.0" rx="1.8" ry="1.8" fill="#d07030"/>
<rect x="155.625" y="65.875" width="879.75" height="233.85" rx="6.6" ry="6.6" fill="none" stroke="#0882f8" stroke-width="4.75"/>
<text transform="translate(7.60,386.80) scale(1.107,1)" class="t" style="fill:#1a1a10;stroke:#1a1a10" x="-0.65 5.49 11.59 17.47 23.13 26.67 29.05 35.03 41.83 45.71 49.05 51.70 54.16 60.67 63.60 69.28 78.84 81.85 86.97 93.21 95.84 103.07 109.14 118.39 124.59 127.24 129.57 135.13 142.37 146.11 152.20 157.62 163.80 168.35 172.72 176.18 181.31 187.37 196.62 202.82 205.48 207.81 213.99 217.86 224.39 227.78 234.15 237.83 243.60 249.50 255.57 261.83 264.22 270.07 276.00 282.44 286.81 291.00 294.57 298.57 304.70 310.84 317.21 320.47 326.61 332.74 339.12 342.38 348.51 354.65 360.97 363.93 369.01 375.05 384.30 390.50 392.83 398.52 404.02 407.47 410.68 416.81 423.19 426.45 432.58 439.04 449.60">Function: libjvm.so.CompileBroker::compiler_thread_loop() (632,697,994 samples, 82.33%)</text>
</svg>
</body></html>
